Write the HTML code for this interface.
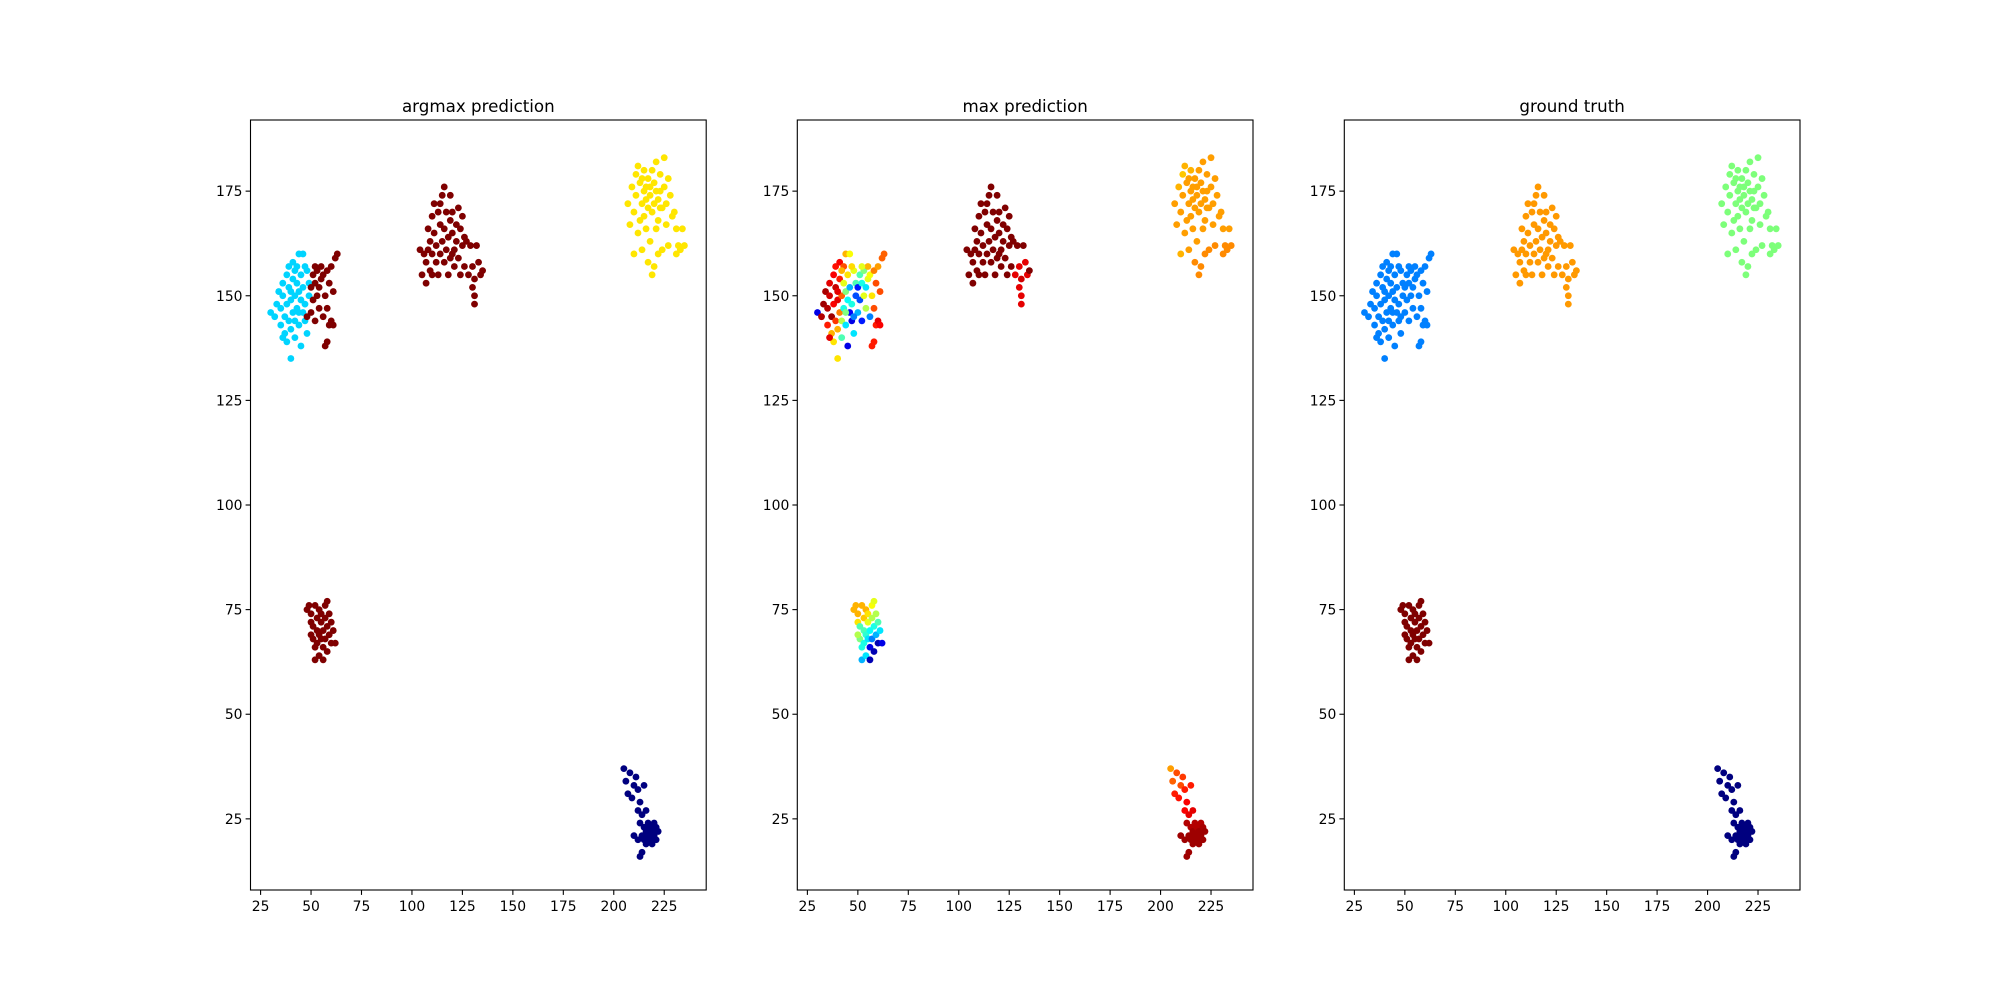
<!DOCTYPE html>
<html><head><meta charset="utf-8"><style>
html,body{margin:0;padding:0;background:#fff;}
svg{display:block;font-family:"DejaVu Sans","Liberation Sans",sans-serif;}
</style></head><body>
<svg id="fig" width="2000" height="1000" viewBox="0 0 2000 1000" xmlns="http://www.w3.org/2000/svg"></svg>
<script>
// data: [x, y, argmaxClass, maxPredValue]
const titles = ["argmax prediction","max prediction","ground truth"];
const xTicks = [25,50,75,100,125,150,175,200,225];
const yTicks = [25,50,75,100,125,150,175];
const argmaxColors = ["#00d4ff","#7f0000","#ffe600","#00007f"];
const truthColors = ["#0080ff","#ff9900","#7dff7a","#7f0000","#00007f"];
const clusterA = [[30,146,0,0.1],[32,145,0,0.95],[33,148,0,0.97],[34,151,0,0.96],[35,147,0,0.95],[35,143,0,0.85],[36,150,0,0.92],[36,153,0,0.9],[37,145,0,0.97],[37,141,0,0.7],[38,148,0,0.88],[38,155,0,0.88],[38,139,0,0.65],[39,152,0,0.93],[39,144,0,0.82],[39,157,0,0.86],[40,149,0,0.9],[40,135,0,0.65],[40,142,0,0.7],[41,154,0,0.85],[41,146,0,0.75],[41,158,0,0.88],[42,150,0,0.78],[42,140,0,0.45],[42,144,0,0.55],[43,153,0,0.6],[43,147,0,0.4],[43,157,0,0.8],[44,151,0,0.5],[44,143,0,0.35],[44,160,0,0.7],[45,149,0,0.38],[45,155,0,0.65],[45,138,0,0.1],[46,146,0,0.12],[46,152,0,0.3],[46,160,0,0.62],[47,144,0,0.1],[47,148,0,0.4],[48,156,0,0.6],[48,141,0,0.35],[49,150,0,0.2],[49,153,0,0.45],[47,157,0,0.66],[42,156,0,0.7],[36,140,0,0.9],[44,146,0,0.5],[40,151,0,0.9],
[50,152,1,0.15],[51,149,1,0.2],[51,155,1,0.45],[52,153,1,0.4],[52,144,1,0.15],[53,156,1,0.5],[53,150,1,0.6],[54,147,1,0.55],[54,152,1,0.35],[55,154,1,0.6],[55,157,1,0.7],[56,155,1,0.62],[56,145,1,0.25],[57,138,1,0.85],[57,150,1,0.65],[58,139,1,0.85],[58,147,1,0.8],[58,156,1,0.75],[59,153,1,0.8],[59,143,1,0.85],[60,144,1,0.9],[60,157,1,0.72],[61,151,1,0.8],[62,159,1,0.78],[63,160,1,0.78],[61,143,1,0.88],[52,157,1,0.6],[50,146,1,0.3],[48,145,1,0.25]];
const clusterB = [[104,161,1,1],[105,155,1,1],[106,160,1,1],[107,153,1,1],[107,158,1,1],[108,161,1,1],[108,166,1,1],[109,156,1,1],[109,163,1,1],[110,169,1,1],[110,160,1,1],[111,172,1,1],[111,165,1,1],[112,158,1,1],[112,162,1,1],[113,170,1,1],[113,155,1,1],[114,167,1,1],[114,160,1,1],[115,174,1,1],[115,163,1,1],[116,176,1,1],[116,158,1,1],[116,166,1,1],[117,161,1,1],[117,170,1,1],[118,155,1,1],[118,164,1,1],[119,168,1,1],[119,159,1,1],[120,165,1,1],[120,170,1,1],[121,161,1,1],[121,157,1,1],[122,167,1,1],[122,163,1,1],[123,171,1,1],[123,159,1,1],[124,166,1,1],[124,155,1,1],[125,169,1,1],[125,162,1,1],[126,157,1,1],[126,164,1,1],[127,163,1,1],[128,155,1,0.9],[129,162,1,1],[130,152,1,0.9],[130,157,1,0.9],[131,150,1,0.9],[131,154,1,0.92],[132,162,1,1],[133,158,1,0.9],[134,155,1,0.9],[135,156,1,1],[131,148,1,0.9],[110,155,1,1],[114,172,1,1],[119,174,1,1],[120,160,1,1]];
const clusterC = [[207,172,2,0.72],[208,167,2,0.72],[209,176,2,0.7],[210,170,2,0.72],[210,160,2,0.7],[211,179,2,0.68],[211,174,2,0.72],[212,165,2,0.72],[212,181,2,0.7],[213,168,2,0.72],[213,177,2,0.72],[214,172,2,0.72],[214,161,2,0.72],[215,175,2,0.72],[215,180,2,0.7],[215,169,2,0.72],[216,173,2,0.72],[216,166,2,0.72],[217,178,2,0.72],[217,171,2,0.72],[217,158,2,0.74],[218,174,2,0.72],[218,176,2,0.72],[218,163,2,0.72],[219,180,2,0.72],[219,170,2,0.72],[220,172,2,0.72],[220,177,2,0.72],[220,157,2,0.74],[221,175,2,0.72],[221,166,2,0.72],[221,182,2,0.72],[222,173,2,0.72],[222,168,2,0.72],[222,160,2,0.74],[223,179,2,0.72],[223,175,2,0.72],[224,171,2,0.72],[224,161,2,0.74],[225,183,2,0.72],[225,176,2,0.72],[226,172,2,0.72],[226,167,2,0.72],[227,178,2,0.72],[227,162,2,0.74],[228,174,2,0.72],[229,169,2,0.72],[230,170,2,0.72],[231,166,2,0.72],[231,160,2,0.74],[232,162,2,0.74],[233,161,2,0.74],[234,166,2,0.72],[235,162,2,0.74],[219,155,2,0.74],[216,176,2,0.72],[223,171,2,0.72],[214,178,2,0.72]];
const clusterD = [[48,75,1,0.7],[49,76,1,0.7],[50,72,1,0.65],[50,74,1,0.7],[51,68,1,0.5],[51,71,1,0.45],[52,76,1,0.7],[52,66,1,0.4],[52,63,1,0.3],[53,73,1,0.68],[53,70,1,0.45],[53,67,1,0.4],[54,75,1,0.7],[54,69,1,0.42],[54,64,1,0.35],[55,72,1,0.6],[55,68,1,0.35],[55,74,1,0.65],[56,70,1,0.38],[56,66,1,0.1],[57,73,1,0.55],[57,76,1,0.62],[57,68,1,0.25],[58,71,1,0.4],[58,65,1,0.05],[59,69,1,0.3],[59,74,1,0.55],[60,67,1,0.05],[60,72,1,0.45],[61,70,1,0.35],[62,67,1,0.1],[56,63,1,0.05],[50,69,1,0.55],[58,77,1,0.6]];
const clusterE = [[205,37,3,0.72],[206,34,3,0.78],[207,31,3,0.85],[208,36,3,0.8],[209,30,3,0.86],[210,33,3,0.8],[211,35,3,0.82],[212,27,3,0.88],[212,32,3,0.85],[213,24,3,0.95],[213,29,3,0.88],[214,21,3,0.97],[214,17,3,0.97],[214,26,3,0.9],[215,20,3,0.97],[215,23,3,0.95],[216,22,3,0.97],[216,19,3,0.97],[217,24,3,0.95],[217,21,3,0.97],[218,20,3,0.97],[218,23,3,0.95],[219,22,3,0.97],[219,19,3,0.97],[220,24,3,0.95],[220,21,3,0.97],[221,20,3,0.97],[221,23,3,0.96],[222,22,3,0.97],[210,21,3,0.97],[212,20,3,0.97],[213,16,3,0.97],[215,33,3,0.85],[216,27,3,0.9]];
const clusters = [clusterA, clusterB, clusterC, clusterD, clusterE];

const NS = "http://www.w3.org/2000/svg";
const svg = document.getElementById("fig");
const X0 = 20.0, X1 = 245.8, Y0 = 8.0, Y1 = 192.0;
const panelLefts = [250.5, 797.3, 1344.3];
const PW = 455.7, PT = 120, PH = 770;
function jet(v){
  const r = Math.min(Math.max(Math.min(4*v-1.5, -4*v+4.5),0),1);
  const g = Math.min(Math.max(Math.min(4*v-0.5, -4*v+3.5),0),1);
  const b = Math.min(Math.max(Math.min(4*v+0.5, -4*v+2.5),0),1);
  return "rgb("+Math.round(r*255)+","+Math.round(g*255)+","+Math.round(b*255)+")";
}
function mk(tag, attrs, parent){
  const e = document.createElementNS(NS, tag);
  for (const k in attrs) e.setAttribute(k, attrs[k]);
  parent.appendChild(e);
  return e;
}
titles.forEach((t, p) => {
  const L = panelLefts[p];
  const sx = v => L + (v - X0) / (X1 - X0) * PW;
  const sy = v => PT + PH - (v - Y0) / (Y1 - Y0) * PH;
  const g = mk("g", {}, svg);
  
  
  const title = mk("text", {x: L + PW/2, y: PT - 8, "text-anchor": "middle", "font-size": 16.7, fill: "#000"}, g);
  title.textContent = t;
  
  
  const pts = mk("g", {}, g);
  
  
  clusters.forEach((cl, ci) => {
    cl.forEach(d => {
      let col;
      if (p === 0) col = argmaxColors[d[2]];
      else if (p === 1) col = jet(d[3]);
      else col = truthColors[ci];
      const c = mk("circle", {cx: sx(d[0]), cy: sy(d[1]), r: 3.4, fill: col}, pts);
      
      
    });
  });
  const frame = mk("rect", {x: L, y: PT, width: PW, height: PH, fill: "none", stroke: "#000", "stroke-width": 1.1}, g);
  
  
  xTicks.forEach(v => {
    const x = sx(v);
    const tk = mk("line", {x1: x, x2: x, y1: PT+PH, y2: PT+PH+4.9, stroke: "#000", "stroke-width": 1.1}, g);
    
    
    const lb = mk("text", {x: x, y: PT+PH+21, "text-anchor": "middle", "font-size": 13.9, fill: "#000"}, g);
    lb.textContent = v;
    
    
  });
  yTicks.forEach(v => {
    const y = sy(v);
    const tk = mk("line", {x1: L-4.9, x2: L, y1: y, y2: y, stroke: "#000", "stroke-width": 1.1}, g);
    
    
    const lb = mk("text", {x: L-8, y: y+5, "text-anchor": "end", "font-size": 13.9, fill: "#000"}, g);
    lb.textContent = v;
    
    
  });
});
</script>
</body></html>
